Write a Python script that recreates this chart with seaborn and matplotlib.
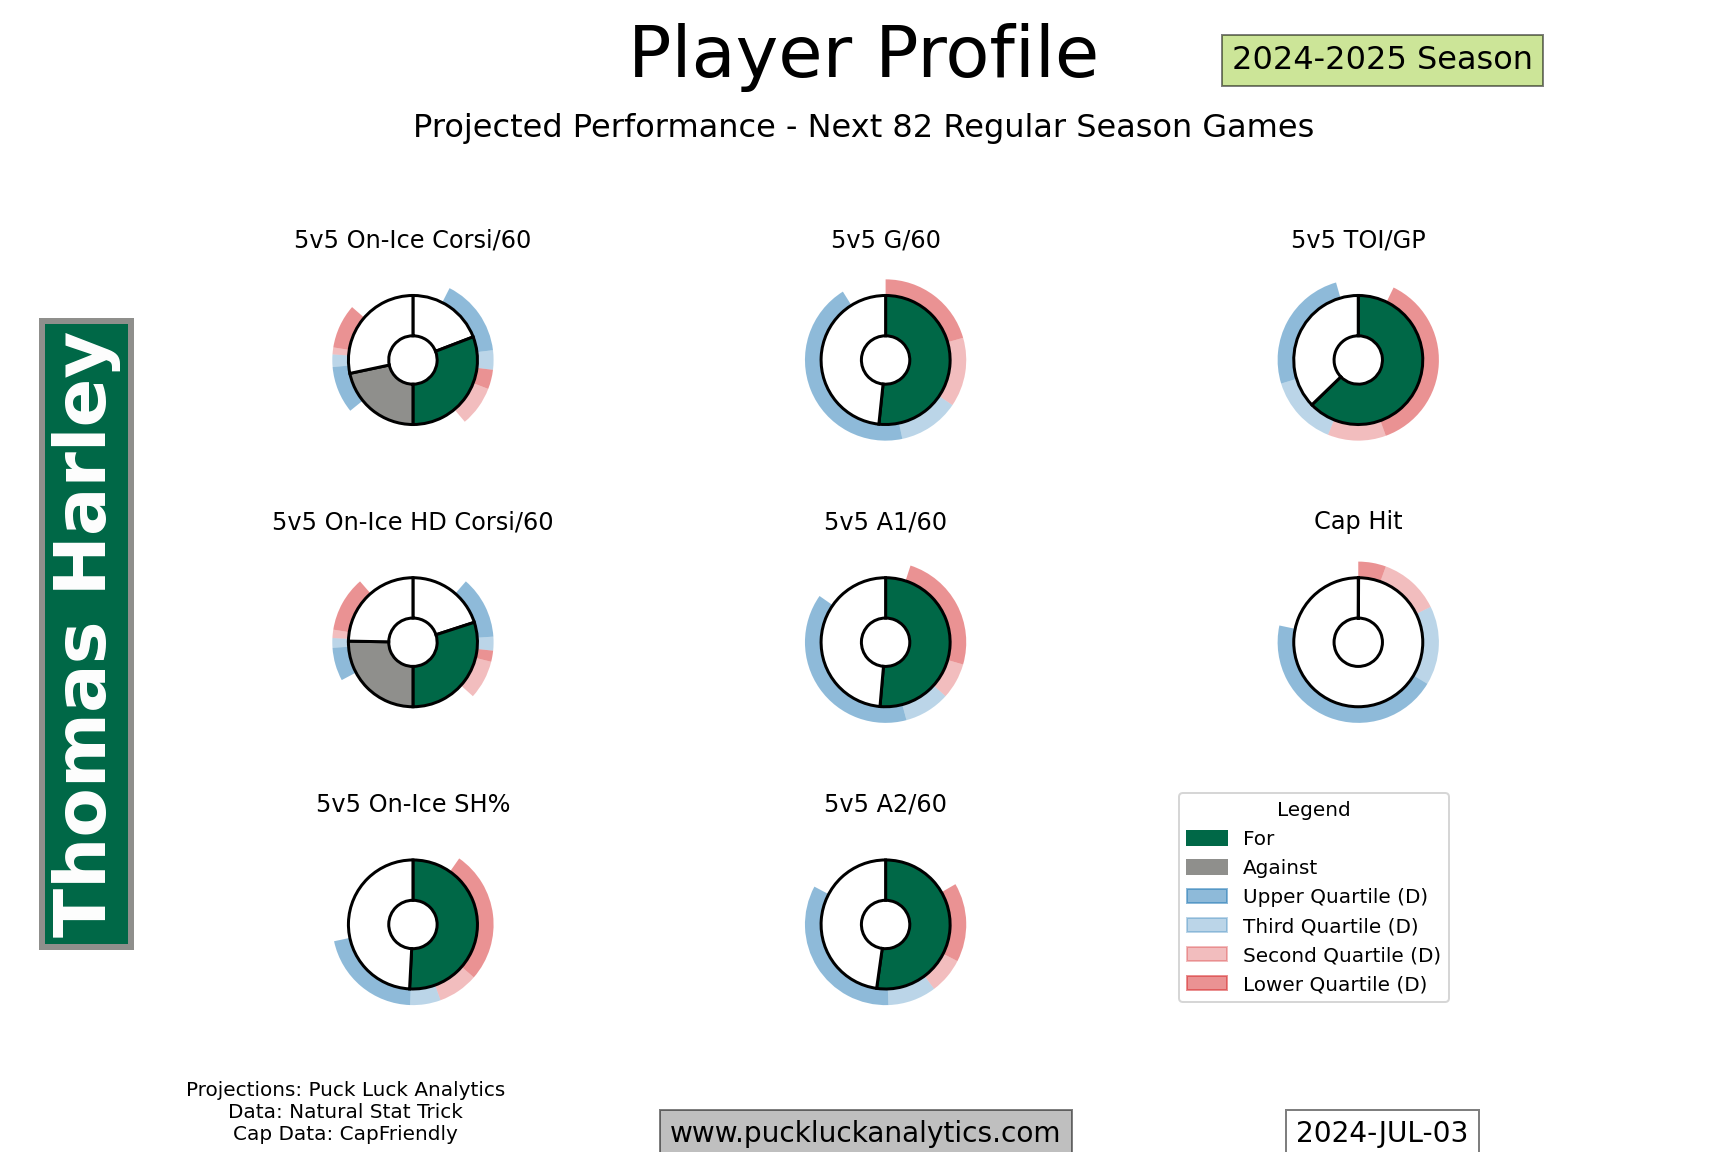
import matplotlib.pyplot as plt
import seaborn as sns
from matplotlib.colors import to_rgba
from matplotlib.patches import Patch

sns.set_style("white")
plt.rcParams["font.family"] = ["DejaVu Sans"]
plt.rcParams["text.color"] = "black"

GREEN = "#006847"
SILVER = "#8F8F8C"

# chart data (angles in degrees, clockwise from 12 o'clock)
metric_titles = [
    "5v5 On-Ice Corsi/60", "5v5 G/60", "5v5 TOI/GP",
    "5v5 On-Ice HD Corsi/60", "5v5 A1/60", "Cap Hit",
    "5v5 On-Ice SH%", "5v5 A2/60",
]
for_angle = [111, 186, 226, 108, 185, 0.3, 183, 188]
against_angle = [78, None, None, 91, None, None, None, None]

# quartile bands of the D population, one list per side
ring_cuts = [
    [[27, 83, 97, 111, 140], [231, 265, 274, 279, 311]],
    [[0, 74, 124, 168, 328]],
    [[26, 160, 202, 253, 344]],
    [[41, 86, 96, 104, 132], [242, 266, 273, 279, 319]],
    [[18, 106, 132, 165, 305]],
    [[0, 20, 64, 121, 282]],
    [[35, 131, 160, 182, 258]],
    [[60, 117, 143, 178, 298]],
]
order_single = ["lower", "second", "third", "upper"]
order_for = ["upper", "third", "lower", "second"]
order_against = ["upper", "third", "second", "lower"]

legend_labels = ["For", "Against", "Upper Quartile (D)", "Third Quartile (D)",
                 "Second Quartile (D)", "Lower Quartile (D)"]

pal = sns.color_palette("tab10")
QUART = {
    "upper": to_rgba(pal[0], 0.5),
    "third": to_rgba(pal[0], 0.3),
    "second": to_rgba(pal[3], 0.3),
    "lower": to_rgba(pal[3], 0.5),
}
CLEAR = (0, 0, 0, 0)


def ring_wedges(cuts):
    if len(cuts) == 1:
        orders = [order_single]
    else:
        orders = [order_for, order_against]
    vals, cols = [], []
    pos = 0
    for side, order in zip(cuts, orders):
        if side[0] > pos:
            vals.append(side[0] - pos)
            cols.append(CLEAR)
        for a, b, key in zip(side[:-1], side[1:], order):
            vals.append(b - a)
            cols.append(QUART[key])
        pos = side[-1]
    if pos < 360:
        vals.append(360 - pos)
        cols.append(CLEAR)
    return vals, cols


fig, axes = plt.subplots(3, 3, figsize=(12, 8), dpi=144)
fig.subplots_adjust(top=0.775, bottom=0.11, hspace=0.4)

for ax, title, f, a, cuts in zip(axes.flat, metric_titles, for_angle, against_angle, ring_cuts):
    rv, rc = ring_wedges(cuts)
    ax.pie(rv, radius=1.0, startangle=90, counterclock=False, colors=rc,
           wedgeprops=dict(width=0.2, linewidth=0))
    if a is None:
        vals = [f, 360 - f]
        cols = [GREEN, "white"]
    else:
        vals = [180 - f, f, a, 180 - a]
        cols = ["white", GREEN, SILVER, "white"]
    ax.pie(vals, radius=0.8, startangle=90, counterclock=False, colors=cols,
           wedgeprops=dict(width=0.5, edgecolor="black", linewidth=1.5))
    ax.set_aspect("equal")
    ax.set_title(title, fontsize=12)

axes.flat[8].axis("off")

handle_colors = [GREEN, SILVER, QUART["upper"], QUART["third"], QUART["second"], QUART["lower"]]
handles = [Patch(facecolor=c, edgecolor=c, label=l) for c, l in zip(handle_colors, legend_labels)]
fig.legend(handles=handles, title="Legend", loc="upper left",
           bbox_to_anchor=(0.6823, 0.3116), borderaxespad=0, fontsize=10)

fig.text(0.5, 0.933, "Player Profile", fontsize=36, ha="center", va="baseline")
fig.text(0.5, 0.881, "Projected Performance - Next 82 Regular Season Games",
         fontsize=16, ha="center", va="baseline")
fig.text(0.800, 0.940, "2024-2025 Season", fontsize=16, ha="center", va="baseline",
         bbox=dict(facecolor="yellowgreen", edgecolor="black", alpha=0.5, pad=5))
fig.text(0.05, 0.4497, "Thomas Harley", rotation=90, fontsize=36, fontweight="bold",
         color="white", ha="center", va="center",
         bbox=dict(facecolor=GREEN, edgecolor=SILVER, linewidth=3, pad=5))

fig.text(0.2, 0.0345, "Projections: Puck Luck Analytics\nData: Natural Stat Trick\nCap Data: CapFriendly",
         fontsize=10, ha="center", va="center", multialignment="center")
fig.text(0.501, 0.009, "www.puckluckanalytics.com", fontsize=14, ha="center", va="baseline",
         bbox=dict(facecolor="grey", edgecolor="black", alpha=0.5, pad=5))
fig.text(0.800, 0.009, "2024-JUL-03", fontsize=14, ha="center", va="baseline",
         bbox=dict(facecolor="white", edgecolor="black", alpha=0.5, pad=5))

fig.savefig("out.png", dpi=144)
plt.close(fig)
